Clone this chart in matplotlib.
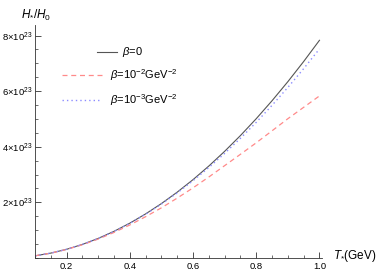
import numpy as np
import matplotlib
matplotlib.use("Agg")
import matplotlib.pyplot as plt
from matplotlib.ticker import MultipleLocator, FixedLocator

plt.rcParams['font.family'] = ['Liberation Sans', 'DejaVu Sans']
plt.rcParams['mathtext.fontset'] = 'custom'
plt.rcParams['mathtext.rm'] = 'Liberation Sans'
plt.rcParams['mathtext.it'] = 'Liberation Sans:italic'
plt.rcParams['mathtext.bf'] = 'Liberation Sans:bold'

# data (values in units of 1e23)
T = [0.10, 0.15, 0.20, 0.25, 0.30, 0.35, 0.40, 0.45, 0.50, 0.55,
     0.60, 0.65, 0.70, 0.75, 0.80, 0.85, 0.90, 0.95, 1.00]
H_beta0 = [0.078, 0.176, 0.313, 0.489, 0.705, 0.959, 1.253, 1.586, 1.958, 2.369,
           2.819, 3.308, 3.837, 4.404, 5.011, 5.657, 6.342, 7.067, 7.830]
H_beta2 = [0.078, 0.174, 0.308, 0.477, 0.681, 0.919, 1.188, 1.486, 1.805, 2.155,
           2.523, 2.914, 3.322, 3.730, 4.144, 4.575, 5.010, 5.420, 5.830]
H_beta3 = [0.078, 0.176, 0.313, 0.488, 0.703, 0.955, 1.246, 1.575, 1.940, 2.342,
           2.780, 3.254, 3.763, 4.306, 4.880, 5.492, 6.135, 6.810, 7.520]
scale = 1e23
labels = [r'$\beta$=0', r'$\beta$=10$^{-2}$GeV$^{-2}$', r'$\beta$=10$^{-3}$GeV$^{-2}$']
yticklabels = ['2×10$^{23}$', '4×10$^{23}$', '6×10$^{23}$', '8×10$^{23}$']
xticklabels = ['0.2', '0.4', '0.6', '0.8', '1.0']

W, H = 382, 273
fig = plt.figure(figsize=(W/100, H/100), dpi=100)
ax = fig.add_axes([35/W, 15/H, (322-35)/W, (258-25)/H])

c_black = '#555555'
c_red = '#ff8a8a'
c_blue = '#8c8cff'
x = np.array(T)
ax.plot(x, np.array(H_beta0)*scale, color=c_black, lw=0.8)
ax.plot(x, np.array(H_beta2)*scale, color=c_red, lw=0.9, dashes=(4, 3))
ax.plot(x, np.array(H_beta3)*scale, color=c_blue, lw=1.0, dashes=(1, 2.2))

ax.set_xlim(0.1, 1.008)
ax.set_ylim(0, 8.38e23)
for s in ['top', 'right']:
    ax.spines[s].set_visible(False)
for s in ['left', 'bottom']:
    ax.spines[s].set_linewidth(0.6)
    ax.spines[s].set_color('#333333')

ax.xaxis.set_major_locator(FixedLocator([0.2, 0.4, 0.6, 0.8, 1.0]))
ax.xaxis.set_minor_locator(MultipleLocator(0.05))
ax.yaxis.set_major_locator(FixedLocator([2e23, 4e23, 6e23, 8e23]))
ax.yaxis.set_minor_locator(MultipleLocator(0.5e23))
ax.set_xticklabels(xticklabels)
ax.set_yticklabels(yticklabels)
ax.tick_params(axis='both', which='major', length=4, width=0.6, labelsize=6.8,
               color='#333333', pad=2, direction='in')
ax.tick_params(axis='both', which='minor', length=2, width=0.5, color='#333333',
               direction='in')
ax.tick_params(axis='x', which='major', pad=3)
ax.tick_params(axis='y', which='major', pad=1.5)

fig.text(36/W, 1 - 15/H, r'$H_{*}/H_0$', fontsize=8.5, va='center', ha='center')
fig.text(333/W, 1 - 256/H, r'$T_{*}$(GeV)', fontsize=8.5, va='center', ha='left')

# legend drawn manually
def fx(px):
    return (px - 35) / (322 - 35)
def fy(py):
    return (258 - py) / (258 - 25)
ax.plot([fx(97), fx(117)], [fy(52), fy(52)], transform=ax.transAxes, color=c_black, lw=0.8)
ax.text(fx(122), fy(52), labels[0], transform=ax.transAxes, fontsize=8, va='center', ha='left')
ax.plot([fx(62), fx(102)], [fy(75), fy(75)], transform=ax.transAxes, color=c_red, lw=0.9, dashes=(4, 3))
ax.text(fx(110), fy(75), labels[1], transform=ax.transAxes, fontsize=8, va='center', ha='left')
ax.plot([fx(62), fx(102)], [fy(100), fy(100)], transform=ax.transAxes, color=c_blue, lw=1.0, dashes=(1, 2.2))
ax.text(fx(110), fy(100), labels[2], transform=ax.transAxes, fontsize=8, va='center', ha='left')

fig.savefig('out.png', dpi=100)
